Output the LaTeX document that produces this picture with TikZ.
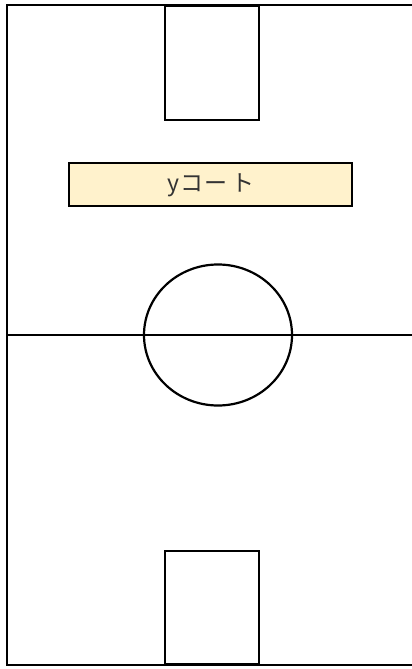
\documentclass[tikz,border=0pt]{standalone}
\usepackage{fontspec}
\usetikzlibrary{shapes.geometric}
\newfontfamily\cjk{Noto Sans CJK JP}
\definecolor{lab}{HTML}{FFF2CC}
\definecolor{txt}{HTML}{333333}
\begin{document}
\begin{tikzpicture}[x=1pt,y=-1pt,line width=2.2pt,
  court/.style={draw=black},
  labelbox/.style={draw=black,fill=lab,minimum width=283pt,minimum height=43pt,inner sep=0pt},
  labeltext/.style={font=\cjk\fontsize{23}{27}\selectfont,text=txt,inner sep=0pt}]
\useasboundingbox (0,0) rectangle (412,669);
\coordinate (tl) at (7,5);
\coordinate (bl) at (7,665);
\coordinate (tr) at (414,5);
\coordinate (br) at (414,665);
\draw[court] (tr) -- (tl) -- (bl) -- (br);
\coordinate (ml) at (7,335);
\coordinate (mr) at (414,335);
\draw[court] (ml) -- (mr);
\node[court,ellipse,minimum width=148pt,minimum height=141pt,inner sep=0pt] (circ) at (218,335) {};
\node[court,minimum width=94pt,minimum height=114pt,inner sep=0pt,anchor=north west] (goaltop) at (164,5) {};
\node[court,minimum width=94pt,minimum height=113pt,inner sep=0pt,anchor=south west] (goalbot) at (164,665) {};
\node[labelbox] (label) at (210.5,184.5) {};
\node[labeltext,anchor=base west] (labtxt) at (166,191) {y\hspace{1pt}コ\hspace{1pt}ー\hspace{4pt}ト};
\end{tikzpicture}
\end{document}
